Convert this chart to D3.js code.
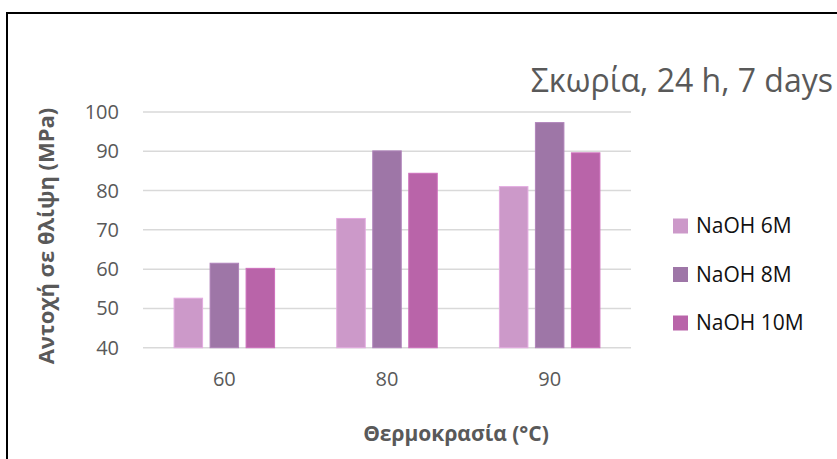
<!DOCTYPE html>
<html>
<head>
<meta charset="utf-8">
<script src="https://cdn.jsdelivr.net/npm/d3@7"></script>
<style>
  body { margin: 0; background: #fff; }
  text { font-family: "Open Sans", "Noto Sans", sans-serif; }
</style>
</head>
<body>
<svg width="837" height="459"></svg>
<script>
// data
var categories = ["60", "80", "90"];
var seriesNames = ["NaOH 6M", "NaOH 8M", "NaOH 10M"];
var naoh6 = [52.6, 72.9, 81.0];
var naoh8 = [61.5, 90.1, 97.3];
var naoh10 = [60.2, 84.4, 89.6];
var yTicks = [40, 50, 60, 70, 80, 90, 100];
var colors = ["#cc99c9", "#9e76a7", "#b964a9"];

var values = [naoh6, naoh8, naoh10];

var svg = d3.select("svg"),
    width = +svg.attr("width"),
    height = +svg.attr("height");

// outer frame
svg.append("rect")
  .attr("x", 7).attr("y", 13)
  .attr("width", width + 10).attr("height", height + 10)
  .attr("fill", "none").attr("stroke", "#000").attr("stroke-width", 2);

var plotLeft = 143, plotRight = 631, plotTop = 112, plotBottom = 347.7;

var x = d3.scaleBand().domain(categories).range([plotLeft, plotRight]);
var y = d3.scaleLinear().domain([40, 100]).range([plotBottom, plotTop]);

// gridlines
svg.append("g").selectAll("line")
  .data(yTicks)
  .enter().append("line")
  .attr("x1", plotLeft).attr("x2", plotRight)
  .attr("y1", function(d) { return y(d); })
  .attr("y2", function(d) { return y(d); })
  .attr("stroke", "#d9d9d9").attr("stroke-width", 1.5);

// y labels
svg.append("g").selectAll("text")
  .data(yTicks)
  .enter().append("text")
  .attr("x", 119).attr("y", function(d) { return y(d); })
  .attr("dy", "0.35em")
  .attr("text-anchor", "end")
  .attr("fill", "#595959")
  .style("font-size", "20px")
  .text(function(d) { return d; });

// bars
var barW = 28.5, barGap = 7.5;
var groupW = seriesNames.length * barW + (seriesNames.length - 1) * barGap;
var x1 = d3.scaleBand().domain(d3.range(seriesNames.length))
  .range([0, groupW]).paddingInner(barGap / (barW + barGap));

var g = svg.append("g");
seriesNames.forEach(function(name, si) {
  g.append("g")
    .attr("fill", colors[si])
    .attr("stroke", d3.color(colors[si]).brighter(0.3))
    .selectAll("rect")
    .data(values[si])
    .enter().append("rect")
    .attr("x", function(d, i) { return x(categories[i]) + (x.bandwidth() - groupW) / 2 + x1(si); })
    .attr("width", x1.bandwidth())
    .attr("y", function(d) { return y(d); })
    .attr("height", function(d) { return y(40) - y(d); });
});

// x labels
svg.append("g").selectAll("text")
  .data(categories)
  .enter().append("text")
  .attr("x", function(d) { return x(d) + x.bandwidth() / 2; })
  .attr("y", 378.5).attr("dy", "0.35em")
  .attr("text-anchor", "middle")
  .attr("fill", "#595959")
  .style("font-size", "20px")
  .text(function(d) { return d; });

// axis titles
svg.append("text")
  .attr("x", 456).attr("y", 434).attr("dy", "0.35em")
  .attr("text-anchor", "middle")
  .attr("fill", "#595959")
  .style("font-size", "21px").style("font-weight", "bold")
  .text("Θερμοκρασία (°C)");

svg.append("text")
  .attr("transform", "translate(46.5,236)rotate(-90)")
  .attr("dy", "0.35em")
  .attr("text-anchor", "middle")
  .attr("fill", "#595959")
  .style("font-size", "22px").style("font-weight", "bold")
  .text("Αντοχή σε θλίψη (MPa)");

// title
svg.append("text")
  .attr("x", 833).attr("y", 81).attr("dy", "0.35em")
  .attr("text-anchor", "end")
  .attr("fill", "#595959")
  .style("font-size", "32px")
  .text("Σκωρία, 24 h, 7 days");

// legend
var legend = svg.append("g").selectAll("g")
  .data(seriesNames)
  .enter().append("g")
  .attr("transform", function(d, i) { return "translate(673," + (226 + i * 48.5) + ")"; });

legend.append("rect")
  .attr("x", 0).attr("y", -7.5)
  .attr("width", 15).attr("height", 15)
  .attr("fill", function(d, i) { return colors[i]; });

legend.append("text")
  .attr("x", 23).attr("y", 0).attr("dy", "0.35em")
  .attr("fill", "#111")
  .style("font-size", "21px")
  .text(function(d) { return d; });
</script>
</body>
</html>
